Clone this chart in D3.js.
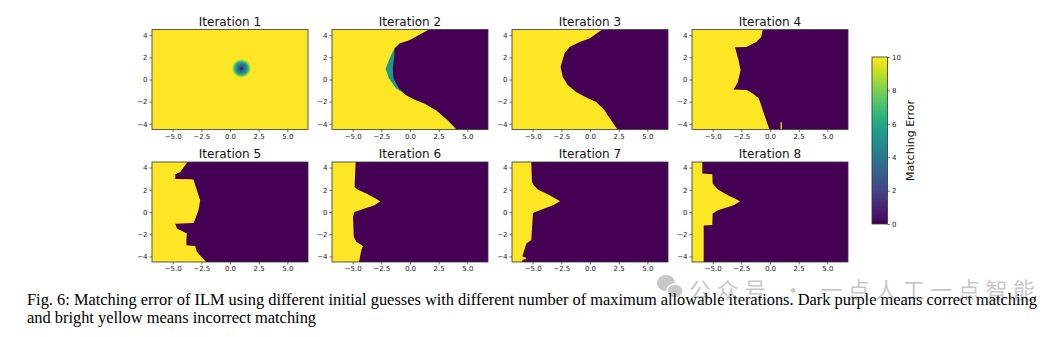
<!DOCTYPE html>
<html>
<head>
<meta charset="utf-8">
<script src="https://cdn.jsdelivr.net/npm/d3@7"></script>
<style>
  body { margin: 0; background: #fff; }
  svg { display: block; }
</style>
</head>
<body>
<div id="chart"></div>
<script>
const WIDTH = 1064, HEIGHT = 337;

// axis extents of every panel
const X_RANGE = [-6.8, 6.8];
const Y_RANGE = [-4.5, 4.5];
const xTicks = [-5, -2.5, 0, 2.5, 5];
const yTicks = [-4, -2, 0, 2, 4];
const cbTicks = [0, 2, 4, 6, 8, 10];

const titles = ["Iteration 1", "Iteration 2", "Iteration 3", "Iteration 4",
                "Iteration 5", "Iteration 6", "Iteration 7", "Iteration 8"];

// iteration 1: one small basin of low error around (1, 1)
const blobCenter = [1.0, 1.0];
const blobRadii = [0, 0.15, 0.3, 0.45, 0.6, 0.72, 0.85];
const blobErrors = [0, 2, 3.5, 5, 6.5, 8.5, 10];

// left edge of the correct-matching region, [y, x] from top to bottom
const iter2Edge = [[4.5, 1.8], [4.44, 1.55], [3.54, -0.04], [3.24, -0.9], [2.79, -1.35], [2.03, -1.38],
  [0.99, -1.5], [0.09, -1.44], [-0.81, -0.95], [-1.42, -0.33], [-1.8, 0.39], [-2.17, 1.26],
  [-2.77, 2.28], [-3.67, 3.29], [-4.5, 4.05]];
const iter2MidEdge = [[4.5, 1.8], [4.44, 1.55], [3.54, -0.04], [3.24, -0.9], [2.79, -1.35], [2.4, -1.55],
  [2.03, -1.72], [0.99, -2.13], [0.09, -1.84], [-0.81, -1.2], [-1.1, -0.75], [-1.42, -0.33],
  [-1.8, 0.39], [-2.17, 1.26], [-2.77, 2.28], [-3.67, 3.29], [-4.5, 4.05]];
const iter2MidError = 5.3;
const iter3Edge = [[4.5, 1.1], [4.44, 0.97], [3.69, -0.04], [3.38, -0.91], [2.93, -1.78], [2.34, -2.22],
  [1.13, -2.57], [0.23, -2.37], [-0.52, -1.93], [-1.12, -1.2], [-1.63, -0.33], [-2.02, 0.54],
  [-2.77, 1.26], [-3.67, 1.84], [-4.5, 2.4]];
const iter4Edge = [[4.5, -0.63], [3.83, -0.77], [3.38, -1.2], [2.99, -1.93], [2.93, -2.1], [2.9, -3.05],
  [1.73, -2.74], [0.83, -2.57], [-0.22, -2.8], [-0.9, -3.17], [-0.95, -2.02], [-1.27, -1.5],
  [-1.72, -0.97], [-2.77, -0.63], [-4.5, -0.05]];
const iter4Spike = [[-4.5, 0.92], [-3.85, 0.92], [-3.85, 1.03], [-4.5, 1.03]];
const iter5Edge = [[4.5, -3.7], [3.6, -4.34], [3.4, -4.77], [2.98, -4.77], [2.95, -3.32], [2.9, -3.18],
  [1.96, -2.89], [1.06, -2.6], [0.16, -2.75], [-0.88, -3.12], [-1.0, -3.2], [-1.05, -4.77],
  [-1.48, -4.63], [-1.93, -3.76], [-2.53, -3.8], [-3.0, -3.8], [-3.07, -3.03], [-3.58, -2.89],
  [-4.5, -2.08]];
const iter6Edge = [[4.5, -4.74], [2.26, -4.83], [2.0, -4.54], [1.66, -3.81], [1.21, -3.0], [0.97, -2.6],
  [0.61, -3.09], [0.31, -3.96], [0.01, -4.83], [-0.43, -4.97], [-2.23, -4.9], [-2.68, -4.68],
  [-3.07, -4.1], [-3.43, -4.24], [-4.5, -4.45]];
const iter7Edge = [[4.5, -5.12], [2.7, -5.06], [2.4, -4.91], [2.02, -4.54], [1.51, -3.52], [0.97, -2.6],
  [0.61, -3.23], [0.16, -4.39], [-0.08, -4.97], [-2.53, -5.12], [-2.83, -5.55], [-4.0, -5.9],
  [-4.1, -5.6], [-4.25, -5.6], [-4.3, -5.9], [-4.5, -5.9]];
const iter8Edge = [[4.5, -5.9], [3.46, -5.9], [3.4, -5.03], [2.56, -5.0], [2.02, -4.54], [1.51, -3.67],
  [0.97, -2.6], [0.61, -3.17], [0.16, -4.54], [-0.13, -5.0], [-1.17, -5.03], [-1.22, -5.78],
  [-4.5, -5.78]];

const captionLine1 = "Fig. 6: Matching error of ILM using different initial guesses with different number of maximum allowable iterations. Dark purple means correct matching";
const captionLine2 = "and bright yellow means incorrect matching";
const watermark = "公众号 · 一点人工一点智能";

const panelW = 156, panelH = 100;
const panelLeft = [152, 332, 512, 692];
const panelTop = [29.5, 162];

let color = d3.scaleSequential(d3.interpolateViridis).domain([0, 10]);

let svg = d3.select("#chart")
    .append("svg")
    .attr("width", WIDTH)
    .attr("height", HEIGHT)
    .style("font-family", "'DejaVu Sans', sans-serif");

let defs = svg.append("defs");

let x = d3.scaleLinear().domain(X_RANGE).range([0, panelW]);
let y = d3.scaleLinear().domain(Y_RANGE).range([panelH, 0]);

// closed region from an edge list out to the right border
function regionPath(edge) {
    let pts = edge.map(function(p) { return [x(p[1]), y(p[0])]; });
    pts.push([x(X_RANGE[1]) + 2, y(Y_RANGE[0])]);
    pts.push([x(X_RANGE[1]) + 2, y(Y_RANGE[1])]);
    return d3.line()(pts) + "Z";
}

// radial falloff for the first panel
let blobGrad = defs.append("radialGradient").attr("id", "blob");
blobGrad.selectAll("stop")
    .data(blobRadii)
    .enter()
    .append("stop")
    .attr("offset", function(d) { return d / blobRadii[blobRadii.length - 1]; })
    .attr("stop-color", function(d, i) { return color(blobErrors[i]); });

let layers = [
    [],
    [{edge: iter2MidEdge, err: iter2MidError}, {edge: iter2Edge, err: 0}],
    [{edge: iter3Edge, err: 0}],
    [{edge: iter4Edge, err: 0}, {poly: iter4Spike, err: 10}],
    [{edge: iter5Edge, err: 0}],
    [{edge: iter6Edge, err: 0}],
    [{edge: iter7Edge, err: 0}],
    [{edge: iter8Edge, err: 0}]
];

titles.forEach(function(title, i) {
    let col = i % 4, row = Math.floor(i / 4);
    let g = svg.append("g")
        .attr("transform", `translate(${panelLeft[col]}, ${panelTop[row]})`);

    defs.append("clipPath").attr("id", "clip" + i)
        .append("rect").attr("width", panelW).attr("height", panelH);

    let plot = g.append("g").attr("clip-path", `url(#clip${i})`);

    plot.append("rect")
        .attr("width", panelW)
        .attr("height", panelH)
        .attr("fill", color(10));

    if (i === 0) {
        let r = blobRadii[blobRadii.length - 1];
        plot.append("ellipse")
            .attr("cx", x(blobCenter[0]))
            .attr("cy", y(blobCenter[1]))
            .attr("rx", x(r) - x(0))
            .attr("ry", y(0) - y(r))
            .attr("fill", "url(#blob)");
    }

    layers[i].forEach(function(l) {
        let d;
        if (l.edge) d = regionPath(l.edge);
        else d = d3.line()(l.poly.map(function(p) { return [x(p[1]), y(p[0])]; })) + "Z";
        plot.append("path")
            .attr("d", d)
            .attr("fill", color(l.err));
    });

    g.append("rect")
        .attr("width", panelW)
        .attr("height", panelH)
        .attr("fill", "none")
        .attr("stroke", "#333")
        .attr("stroke-width", 0.8);

    let xa = g.append("g")
        .attr("transform", `translate(0, ${panelH})`)
        .call(d3.axisBottom(x).tickValues(xTicks).tickSize(2.5).tickPadding(2).tickFormat(d3.format(".1f")));
    let ya = g.append("g")
        .call(d3.axisLeft(y).tickValues(yTicks).tickSize(2.5).tickPadding(2).tickFormat(d3.format("d")));
    [xa, ya].forEach(function(a) {
        a.select(".domain").remove();
        a.selectAll("line").attr("stroke", "#333").attr("stroke-width", 0.7);
        a.selectAll("text")
            .attr("fill", "#222")
            .style("font-size", "7px")
            .style("font-family", "'DejaVu Sans', sans-serif");
    });

    g.append("text")
        .attr("x", panelW / 2)
        .attr("y", -4)
        .attr("text-anchor", "middle")
        .style("font-size", "12px")
        .attr("fill", "#111")
        .text(title);
});

// colorbar
const cbX = 872, cbY = 57, cbW = 15.5, cbH = 167;
let cbScale = d3.scaleLinear().domain([0, 10]).range([cbH, 0]);
let cbGrad = defs.append("linearGradient")
    .attr("id", "cbgrad")
    .attr("x1", 0).attr("y1", 1).attr("x2", 0).attr("y2", 0);
cbGrad.selectAll("stop")
    .data(d3.range(0, 10.01, 0.5))
    .enter()
    .append("stop")
    .attr("offset", function(d) { return d / 10; })
    .attr("stop-color", function(d) { return color(d); });

let cb = svg.append("g").attr("transform", `translate(${cbX}, ${cbY})`);
cb.append("rect")
    .attr("width", cbW)
    .attr("height", cbH)
    .attr("fill", "url(#cbgrad)")
    .attr("stroke", "#333")
    .attr("stroke-width", 0.8);
let cba = cb.append("g")
    .attr("transform", `translate(${cbW}, 0)`)
    .call(d3.axisRight(cbScale).tickValues(cbTicks).tickSize(2.5).tickPadding(2).tickFormat(d3.format("d")));
cba.select(".domain").remove();
cba.selectAll("line").attr("stroke", "#333").attr("stroke-width", 0.7);
cba.selectAll("text")
    .attr("fill", "#222")
    .style("font-size", "7px")
    .style("font-family", "'DejaVu Sans', sans-serif");
svg.append("text")
    .attr("transform", `translate(914, ${cbY + cbH / 2}) rotate(-90)`)
    .attr("text-anchor", "middle")
    .style("font-size", "11px")
    .attr("fill", "#111")
    .text("Matching Error");

// watermark behind the caption
let wm = svg.append("g").attr("opacity", 0.62).attr("fill", "#a8a8a8");
wm.append("ellipse").attr("cx", 666).attr("cy", 283).attr("rx", 9).attr("ry", 8);
wm.append("ellipse").attr("cx", 675).attr("cy", 291).attr("rx", 8).attr("ry", 7)
    .attr("stroke", "#fff").attr("stroke-width", 1.5);
wm.append("text")
    .attr("x", 689)
    .attr("y", 298)
    .style("font-family", "'Noto Sans CJK SC', sans-serif")
    .style("font-size", "22px")
    .attr("textLength", 346)
    .attr("lengthAdjust", "spacing")
    .text(watermark);

// caption
svg.append("text")
    .attr("x", 27)
    .attr("y", 305)
    .attr("textLength", 1010)
    .attr("lengthAdjust", "spacing")
    .style("font-family", "'Liberation Serif', serif")
    .style("font-size", "16.4px")
    .attr("fill", "#000")
    .text(captionLine1);
svg.append("text")
    .attr("x", 27)
    .attr("y", 323)
    .style("font-family", "'Liberation Serif', serif")
    .style("font-size", "16.4px")
    .attr("fill", "#000")
    .text(captionLine2);
</script>
</body>
</html>
